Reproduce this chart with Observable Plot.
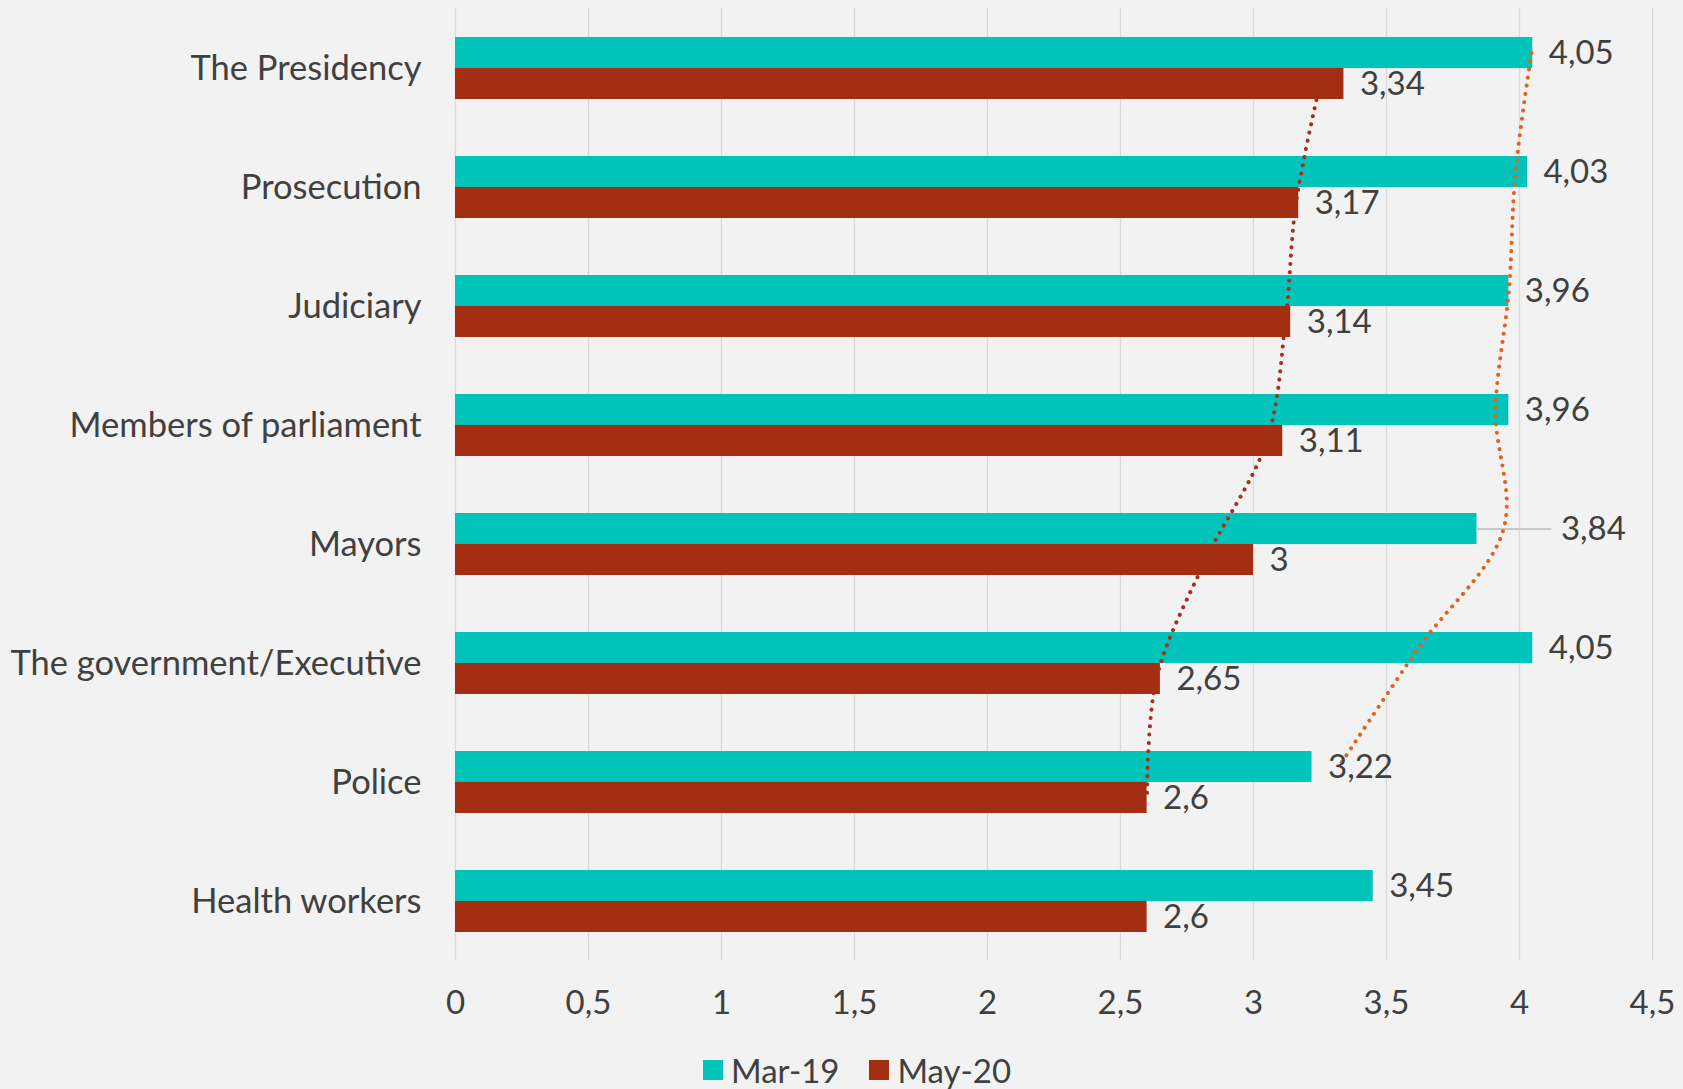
<!DOCTYPE html>
<html>
<head>
<meta charset="utf-8">
<script src="https://cdn.jsdelivr.net/npm/d3@7"></script>
<script src="https://cdn.jsdelivr.net/npm/@observablehq/plot@0.6"></script>
<style>
  html, body { margin: 0; padding: 0; background: #f2f2f2; }
  body { width: 1683px; height: 1089px; overflow: hidden; position: relative; font-family: Lato, "Open Sans", sans-serif; color: #404040; }
  #chart { position: absolute; left: 0; top: 0; }
  #legend { position: absolute; left: 703px; top: 1050px; display: flex; align-items: center; font-size: 33px; }
  .item { display: flex; align-items: center; margin-right: 30px; }
  .swatch { width: 20px; height: 20px; margin-right: 8px; }
</style>
</head>
<body>
<div id="chart"></div>
<div id="legend"></div>
<script>
// ---- data ----
const categories = ["The Presidency", "Prosecution", "Judiciary", "Members of parliament", "Mayors", "The government/Executive", "Police", "Health workers"];
const seriesNames = ["Mar-19", "May-20"];
const mar19 = [4.05, 4.03, 3.96, 3.96, 3.84, 4.05, 3.22, 3.45];
const may20 = [3.34, 3.17, 3.14, 3.11, 3.00, 2.65, 2.60, 2.60];
const xTicks = [0, 0.5, 1, 1.5, 2, 2.5, 3, 3.5, 4, 4.5];
// dotted trend lines (first seven categories)
const trendCategories = categories.slice(0, 7);
const trendMar19 = [4.045, 3.985, 3.96, 3.91, 3.94, 3.62, 3.32];
const trendMay20 = [3.25, 3.16, 3.12, 3.05, 2.82, 2.635, 2.60];
const calloutCategory = "Mayors";

// ---- styles ----
const colors = {"Mar-19": "#00c4b9", "May-20": "#a32e12"};
const trendColors = {"Mar-19": "#e0641e", "May-20": "#a3301c"};
const fmt = v => String(v).replace(".", ",");
const textColor = "#404040";
const fs = 33;
const catFs = 34.5;

const rows = categories.flatMap((c, i) => [
  {category: c, series: "Mar-19", value: mar19[i]},
  {category: c, series: "May-20", value: may20[i]}
]);
const marRows = rows.filter(d => d.series === "Mar-19");
const mayRows = rows.filter(d => d.series === "May-20");
const trendMarRows = trendCategories.map((c, i) => ({category: c, value: trendMar19[i]}));
const trendMayRows = trendCategories.map((c, i) => ({category: c, value: trendMay20[i]}));

const height = 1040, marginTop = 8, marginBottom = 80;
const step = (height - marginTop - marginBottom) / categories.length;
const half = step * 0.52 / 2;

const chart = Plot.plot({
  width: 1683,
  height,
  marginLeft: 455,
  marginRight: 31,
  marginTop,
  marginBottom,
  style: {background: "transparent", fontFamily: "Lato, 'Open Sans', sans-serif", fontSize: fs + "px", color: textColor},
  x: {domain: [0, 4.5], label: null},
  y: {domain: categories, paddingInner: 0.48, paddingOuter: 0.24, label: null},
  marks: [
    Plot.gridX(xTicks, {stroke: "#d9d9d9", strokeOpacity: 1, strokeWidth: 1.3}),
    Plot.barX(marRows, {y: "category", x: "value", fill: colors["Mar-19"], insetBottom: half}),
    Plot.barX(mayRows, {y: "category", x: "value", fill: colors["May-20"], insetTop: half}),
    Plot.ruleY(marRows.filter(d => d.category === calloutCategory), {y: "category", x1: "value", x2: "value", insetRight: -75, dy: -half / 2, stroke: "#c8c8c8", strokeWidth: 2}),
    Plot.line(trendMarRows, {y: "category", x: "value", dy: -half / 2, stroke: trendColors["Mar-19"], strokeWidth: 4, strokeDasharray: "0.1 8.2", strokeLinecap: "round", curve: "catmull-rom"}),
    Plot.line(trendMayRows, {y: "category", x: "value", dy: half / 2, stroke: trendColors["May-20"], strokeWidth: 4, strokeDasharray: "0.1 8.2", strokeLinecap: "round", curve: "catmull-rom"}),
    Plot.text(marRows.filter(d => d.category !== calloutCategory), {y: "category", x: "value", text: d => fmt(d.value), dx: 16, dy: -half / 2, textAnchor: "start", fill: textColor, fontSize: fs}),
    Plot.text(marRows.filter(d => d.category === calloutCategory), {y: "category", x: "value", text: d => fmt(d.value), dx: 84, dy: -half / 2, textAnchor: "start", fill: textColor, fontSize: fs}),
    Plot.text(mayRows, {y: "category", x: "value", text: d => fmt(d.value), dx: 16, dy: half / 2, textAnchor: "start", fill: textColor, fontSize: fs}),
    Plot.axisX({ticks: xTicks, tickFormat: fmt, tickSize: 0, tickPadding: 30, fontSize: fs, label: null}),
    Plot.axisY({tickSize: 0, tickPadding: 34, fontSize: catFs, label: null})
  ]
});
document.getElementById("chart").appendChild(chart);

const legend = document.getElementById("legend");
seriesNames.forEach(s => {
  const item = document.createElement("div");
  item.className = "item";
  const sw = document.createElement("div");
  sw.className = "swatch";
  sw.style.background = colors[s];
  const lab = document.createElement("span");
  lab.textContent = s;
  item.appendChild(sw);
  item.appendChild(lab);
  legend.appendChild(item);
});
</script>
</body>
</html>
